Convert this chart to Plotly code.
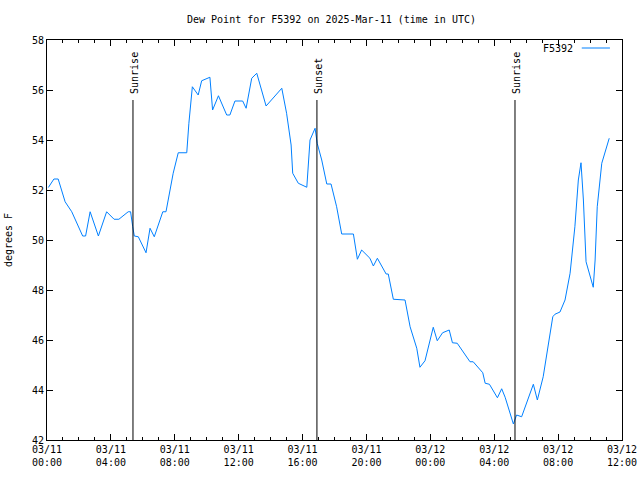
import plotly.graph_objects as go

times = [
    "2025-03-11 00:05", "2025-03-11 00:26", "2025-03-11 00:42", "2025-03-11 01:08", "2025-03-11 01:33",
    "2025-03-11 02:14", "2025-03-11 02:25", "2025-03-11 02:42", "2025-03-11 03:13", "2025-03-11 03:44",
    "2025-03-11 04:12", "2025-03-11 04:30", "2025-03-11 05:05", "2025-03-11 05:14", "2025-03-11 05:22",
    "2025-03-11 05:28", "2025-03-11 05:43", "2025-03-11 06:12", "2025-03-11 06:27", "2025-03-11 06:43",
    "2025-03-11 07:15", "2025-03-11 07:27", "2025-03-11 07:54", "2025-03-11 08:13", "2025-03-11 08:45",
    "2025-03-11 08:53", "2025-03-11 09:06", "2025-03-11 09:28", "2025-03-11 09:41", "2025-03-11 10:12",
    "2025-03-11 10:22", "2025-03-11 10:44", "2025-03-11 11:15", "2025-03-11 11:27", "2025-03-11 11:46",
    "2025-03-11 12:15", "2025-03-11 12:28", "2025-03-11 12:49", "2025-03-11 13:08", "2025-03-11 13:43",
    "2025-03-11 14:42", "2025-03-11 15:00", "2025-03-11 15:17", "2025-03-11 15:23", "2025-03-11 15:44",
    "2025-03-11 16:16", "2025-03-11 16:28", "2025-03-11 16:47", "2025-03-11 16:55", "2025-03-11 17:12",
    "2025-03-11 17:31", "2025-03-11 17:47", "2025-03-11 18:08", "2025-03-11 18:27", "2025-03-11 19:11",
    "2025-03-11 19:26", "2025-03-11 19:42", "2025-03-11 20:13", "2025-03-11 20:26", "2025-03-11 20:41",
    "2025-03-11 21:14", "2025-03-11 21:22", "2025-03-11 21:41", "2025-03-11 22:25", "2025-03-11 22:44",
    "2025-03-11 23:09", "2025-03-11 23:21", "2025-03-11 23:40", "2025-03-12 00:11", "2025-03-12 00:26",
    "2025-03-12 00:46", "2025-03-12 01:11", "2025-03-12 01:23", "2025-03-12 01:41", "2025-03-12 02:29",
    "2025-03-12 02:41", "2025-03-12 03:17", "2025-03-12 03:26", "2025-03-12 03:42", "2025-03-12 04:12",
    "2025-03-12 04:28", "2025-03-12 04:41", "2025-03-12 05:12", "2025-03-12 05:24", "2025-03-12 05:43",
    "2025-03-12 06:02", "2025-03-12 06:27", "2025-03-12 06:42", "2025-03-12 07:04", "2025-03-12 07:23",
    "2025-03-12 07:40", "2025-03-12 07:48", "2025-03-12 08:07", "2025-03-12 08:26", "2025-03-12 08:45",
    "2025-03-12 09:03", "2025-03-12 09:16", "2025-03-12 09:26", "2025-03-12 09:35", "2025-03-12 09:45",
    "2025-03-12 10:00", "2025-03-12 10:12", "2025-03-12 10:19", "2025-03-12 10:27", "2025-03-12 10:44",
    "2025-03-12 11:00", "2025-03-12 11:12",
]

dew_point = [
    52.1, 52.44, 52.44, 51.53, 51.13,
    50.16, 50.16, 51.13, 50.16, 51.13,
    50.83, 50.83, 51.13, 51.13, 50.53,
    50.16, 50.13, 49.49, 50.47, 50.13,
    51.13, 51.13, 52.67, 53.49, 53.49,
    54.67, 56.13, 55.8, 56.37, 56.51,
    55.2, 55.77, 55.0, 55.0, 55.56,
    55.56, 55.27, 56.47, 56.67, 55.36,
    56.07, 55.07, 53.8, 52.67, 52.27,
    52.11, 54.0, 54.47, 53.87, 53.2,
    52.24, 52.24, 51.33, 50.24, 50.24,
    49.23, 49.6, 49.27, 48.96, 49.27,
    48.64, 48.64, 47.63, 47.6, 46.53,
    45.67, 44.91, 45.17, 46.51, 45.97,
    46.29, 46.4, 45.89, 45.87, 45.13,
    45.13, 44.69, 44.27, 44.23, 43.69,
    44.05, 43.71, 42.64, 43.0, 42.93,
    43.53, 44.23, 43.6, 44.53, 45.8,
    46.93, 47.03, 47.12, 47.6, 48.67,
    50.53, 52.4, 53.09, 51.6, 49.13,
    48.53, 48.11, 49.2, 51.33, 53.07,
    53.63, 54.07,
]

series_name = "F5392"
events = ["Sunrise", "Sunset", "Sunrise"]
event_times = ["2025-03-11 05:23", "2025-03-11 16:54", "2025-03-12 05:18"]
event_line_top = 55.6

x_range = ["2025-03-11 00:00", "2025-03-12 12:00"]
y_range = [42, 58]
x_tickvals = ["2025-03-11 00:00", "2025-03-11 04:00", "2025-03-11 08:00", "2025-03-11 12:00",
              "2025-03-11 16:00", "2025-03-11 20:00", "2025-03-12 00:00", "2025-03-12 04:00",
              "2025-03-12 08:00", "2025-03-12 12:00"]
x_ticktext = ["03/11<br>00:00", "03/11<br>04:00", "03/11<br>08:00", "03/11<br>12:00",
              "03/11<br>16:00", "03/11<br>20:00", "03/12<br>00:00", "03/12<br>04:00",
              "03/12<br>08:00", "03/12<br>12:00"]
y_tickvals = [42, 44, 46, 48, 50, 52, 54, 56, 58]

FONT = "DejaVu Sans Mono"
LINE_COLOR = "rgb(0,128,255)"

fig = go.Figure()
fig.add_trace(go.Scatter(
    x=times, y=dew_point, mode="lines", name=series_name,
    line=dict(color=LINE_COLOR, width=1), showlegend=False,
))

for name, t in zip(events, event_times):
    fig.add_shape(type="line", xref="x", yref="y", x0=t, x1=t, y0=y_range[0], y1=event_line_top,
                  line=dict(color="black", width=1))
    fig.add_annotation(x=t, y=event_line_top, xref="x", yref="y", text=name, textangle=-90,
                       showarrow=False, yanchor="bottom", xanchor="center", yshift=4, xshift=1,
                       font=dict(family=FONT, size=10, color="black"))

# gnuplot-style key: label then line sample
fig.add_annotation(x=0.919, y=0.98, xref="paper", yref="paper", text=series_name, showarrow=False,
                   xanchor="right", yanchor="middle", font=dict(family=FONT, size=10, color="black"))
fig.add_shape(type="line", xref="paper", yref="paper", x0=0.93, x1=0.979, y0=0.98, y1=0.98,
              line=dict(color=LINE_COLOR, width=1))

fig.update_layout(
    width=640, height=480,
    margin=dict(l=47, r=18, t=40, b=40, autoexpand=False),
    paper_bgcolor="white", plot_bgcolor="white",
    font=dict(family=FONT, size=10, color="black"),
    title=dict(text="Dew Point for F5392 on 2025-Mar-11 (time in UTC)", xref="container",
               x=331.5 / 640, xanchor="center",
               y=1 - 19 / 480, yanchor="middle", font=dict(family=FONT, size=10, color="black")),
    showlegend=False,
)

fig.update_xaxes(
    type="date", range=x_range, tickvals=x_tickvals, ticktext=x_ticktext, automargin=False,
    ticks="inside", ticklen=6, tickcolor="black", showline=True, linecolor="black", linewidth=1,
    mirror="allticks", showgrid=False, zeroline=False,
    minor=dict(ticks="inside", ticklen=3, dtick=3600000, tickcolor="black", showgrid=False),
)
fig.update_yaxes(
    range=y_range, tickvals=y_tickvals, ticks="inside", ticklen=6, tickcolor="black", automargin=False,
    showline=True, linecolor="black", linewidth=1, mirror="allticks", showgrid=False, zeroline=False,
    title=dict(text="degrees F", font=dict(family=FONT, size=10), standoff=17),
)

fig.write_html("out.html")
